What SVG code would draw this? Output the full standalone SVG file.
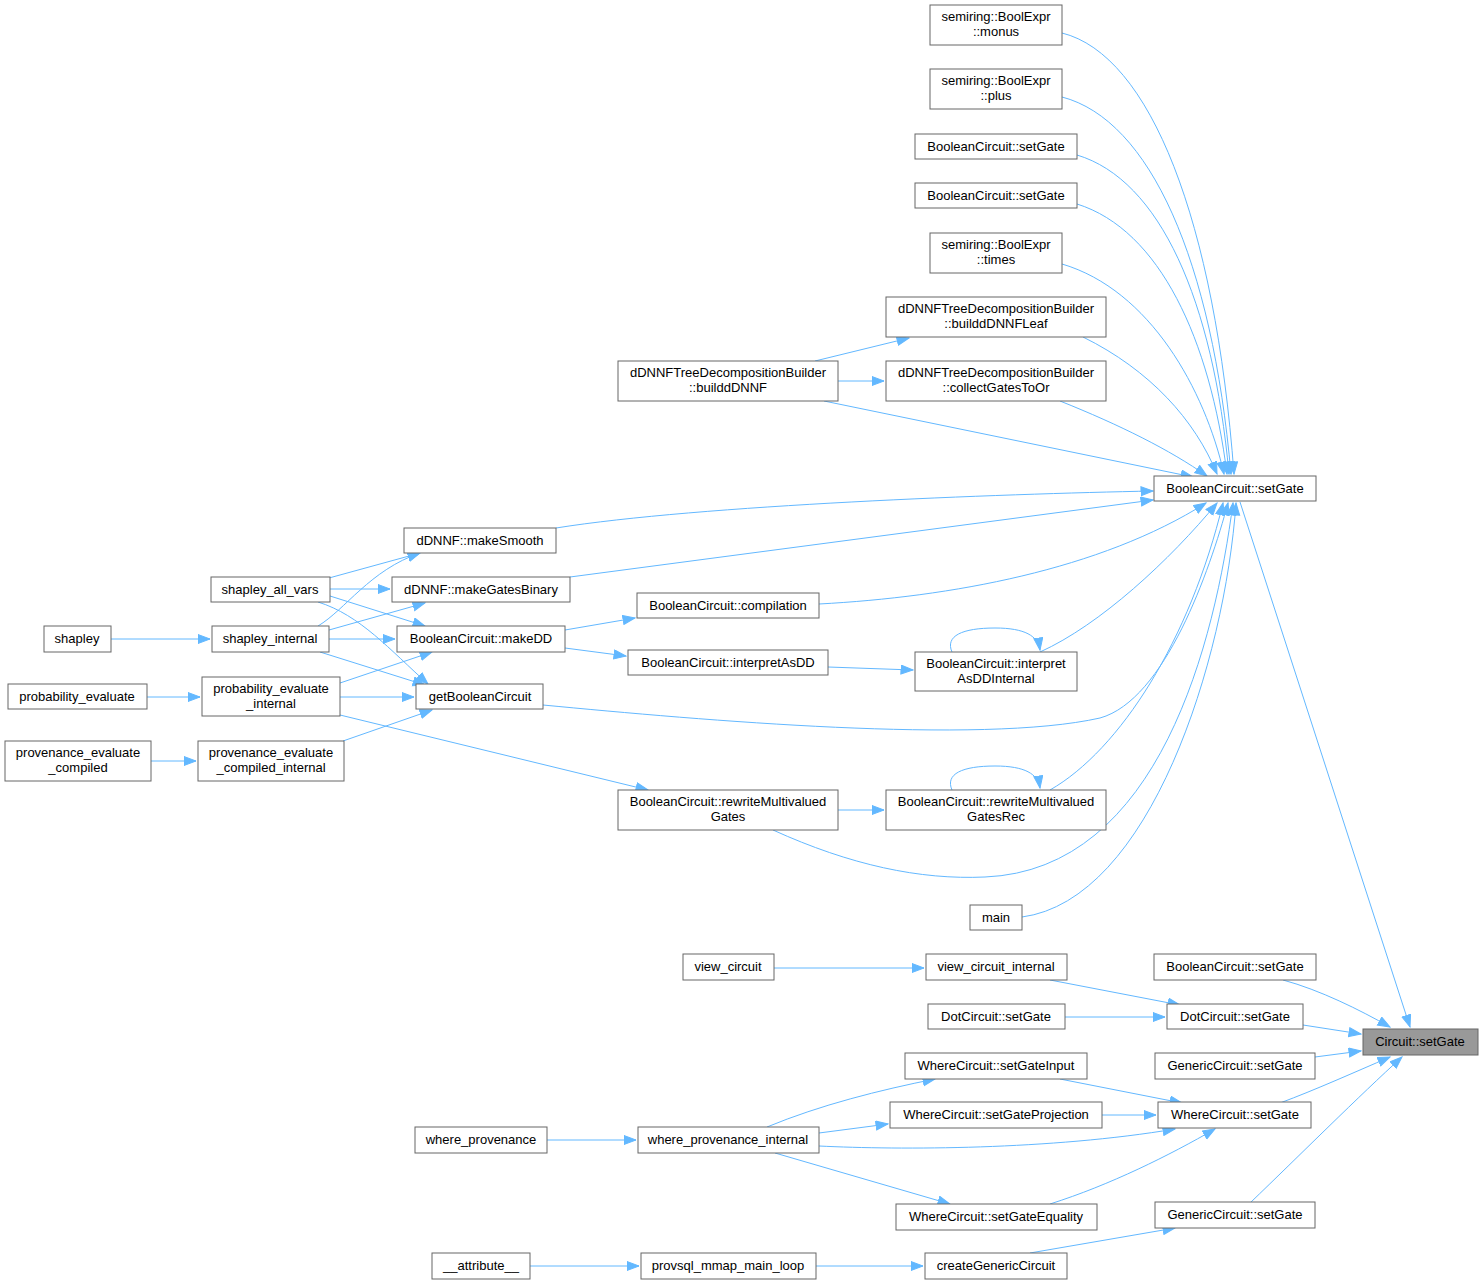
<svg xmlns="http://www.w3.org/2000/svg" width="1484" height="1285" viewBox="0 0 1484 1285">
<style>
.n rect{fill:#fff;stroke:#666;stroke-width:1}
.n text{font-family:"Liberation Sans",Arial,sans-serif;font-size:13px;fill:#000;text-anchor:middle}
.e path{fill:none;stroke:#63b8ff;stroke-width:1;marker-end:url(#a)}
</style>
<defs>
<marker id="a" markerUnits="userSpaceOnUse" markerWidth="14" markerHeight="11" refX="12.5" refY="5" orient="auto">
<path d="M0.5,0.5 L12.5,5 L0.5,9.5 z" fill="#63b8ff" stroke="#63b8ff"/>
</marker>
</defs>
<rect width="1484" height="1285" fill="#fff"/>
<g id="edges" class="e">
<path d="M1240,502 L1410,1027"/>
<path d="M1283,980 C1320,990 1360,1010 1390,1027"/>
<path d="M1303,1025 L1361,1034"/>
<path d="M1315,1057 L1361,1051"/>
<path d="M1280,1103 C1315,1090 1355,1072 1390,1057"/>
<path d="M1250,1203 C1300,1155 1360,1095 1402,1057"/>
<path d="M1062,33 C1150,55 1215,220 1234,474"/>
<path d="M1062,97 C1150,120 1212,260 1231,474"/>
<path d="M1077,155 C1160,180 1213,300 1229,474"/>
<path d="M1077,204 C1160,230 1210,340 1227,474"/>
<path d="M1062,264 C1150,290 1205,390 1224,474"/>
<path d="M1083,337 C1150,370 1195,420 1217,474"/>
<path d="M1060,401 C1120,425 1170,450 1207,476"/>
<path d="M824,401 L1193,477"/>
<path d="M556,528 C700,505 1000,494 1153,491"/>
<path d="M570,577 L1153,500"/>
<path d="M819,604 C950,597 1100,570 1206,503"/>
<path d="M1040,652 C1100,625 1170,560 1217,503"/>
<path d="M543,705 C700,720 980,745 1100,718 C1165,700 1210,570 1228,503"/>
<path d="M1050,790 C1120,750 1190,640 1223,503"/>
<path d="M773,830 C850,865 920,880 985,877 C1160,870 1215,640 1233,503"/>
<path d="M1022,917 C1150,900 1225,660 1236,503"/>
<path d="M952,652 C945,636 962,628 995,628 C1025,628 1038,636 1040,650"/>
<path d="M952,790 C945,774 962,766 995,766 C1025,766 1038,774 1040,788"/>
<path d="M815,361 L909,338"/>
<path d="M838,381 L884,381"/>
<path d="M828,667 L913,670"/>
<path d="M838,810 L884,810"/>
<path d="M565,648 L626,656"/>
<path d="M565,630 L635,618"/>
<path d="M111,639 L210,639"/>
<path d="M147,697 L200,697"/>
<path d="M151,761 L196,761"/>
<path d="M329,578 L420,553"/>
<path d="M330,589 L390,589"/>
<path d="M330,596 L425,626"/>
<path d="M318,602 C360,615 390,650 428,684"/>
<path d="M318,626 C345,610 370,570 420,553"/>
<path d="M329,630 L425,603"/>
<path d="M329,639 L395,639"/>
<path d="M320,652 L425,685"/>
<path d="M340,683 L432,652"/>
<path d="M340,697 L414,697"/>
<path d="M340,715 L648,790"/>
<path d="M343,741 L432,710"/>
<path d="M774,968 L924,968"/>
<path d="M1050,980 L1180,1005"/>
<path d="M1065,1017 L1165,1017"/>
<path d="M1060,1079 L1182,1103"/>
<path d="M1102,1115 L1156,1115"/>
<path d="M819,1146 C900,1150 1050,1150 1175,1129"/>
<path d="M767,1127 C820,1105 880,1090 935,1079"/>
<path d="M819,1133 L888,1124"/>
<path d="M775,1153 L950,1204"/>
<path d="M1050,1204 C1110,1185 1170,1155 1215,1129"/>
<path d="M547,1140 L636,1140"/>
<path d="M530,1266 L639,1266"/>
<path d="M816,1266 L923,1266"/>
<path d="M1030,1253 L1175,1228"/>
</g>
<g id="n0" class="n"><rect x="1363" y="1029" width="115" height="26" style="fill:#999"/><text x="1420" y="1046">Circuit::setGate</text></g>
<g id="n1" class="n"><rect x="1154" y="476" width="162" height="25"/><text x="1235" y="493">BooleanCircuit::setGate</text></g>
<g id="n2" class="n"><rect x="930" y="5" width="132" height="40"/><text x="996" y="21">semiring::BoolExpr</text><text x="996" y="36">::monus</text></g>
<g id="n3" class="n"><rect x="930" y="69" width="132" height="40"/><text x="996" y="85">semiring::BoolExpr</text><text x="996" y="100">::plus</text></g>
<g id="n4" class="n"><rect x="915" y="134" width="162" height="25"/><text x="996" y="151">BooleanCircuit::setGate</text></g>
<g id="n5" class="n"><rect x="915" y="183" width="162" height="25"/><text x="996" y="200">BooleanCircuit::setGate</text></g>
<g id="n6" class="n"><rect x="930" y="233" width="132" height="40"/><text x="996" y="249">semiring::BoolExpr</text><text x="996" y="264">::times</text></g>
<g id="n7" class="n"><rect x="886" y="297" width="220" height="40"/><text x="996" y="313">dDNNFTreeDecompositionBuilder</text><text x="996" y="328">::builddDNNFLeaf</text></g>
<g id="n8" class="n"><rect x="886" y="361" width="220" height="40"/><text x="996" y="377">dDNNFTreeDecompositionBuilder</text><text x="996" y="392">::collectGatesToOr</text></g>
<g id="n9" class="n"><rect x="618" y="361" width="220" height="40"/><text x="728" y="377">dDNNFTreeDecompositionBuilder</text><text x="728" y="392">::builddDNNF</text></g>
<g id="n10" class="n"><rect x="404" y="528" width="152" height="25"/><text x="480" y="545">dDNNF::makeSmooth</text></g>
<g id="n11" class="n"><rect x="392" y="577" width="178" height="25"/><text x="481" y="594">dDNNF::makeGatesBinary</text></g>
<g id="n12" class="n"><rect x="211" y="577" width="119" height="25"/><text x="270" y="594">shapley_all_vars</text></g>
<g id="n13" class="n"><rect x="44" y="626" width="67" height="26"/><text x="77" y="643">shapley</text></g>
<g id="n14" class="n"><rect x="212" y="626" width="117" height="26"/><text x="270" y="643">shapley_internal</text></g>
<g id="n15" class="n"><rect x="397" y="626" width="168" height="26"/><text x="481" y="643">BooleanCircuit::makeDD</text></g>
<g id="n16" class="n"><rect x="637" y="593" width="182" height="25"/><text x="728" y="610">BooleanCircuit::compilation</text></g>
<g id="n17" class="n"><rect x="628" y="650" width="200" height="25"/><text x="728" y="667">BooleanCircuit::interpretAsDD</text></g>
<g id="n18" class="n"><rect x="915" y="652" width="162" height="39"/><text x="996" y="668">BooleanCircuit::interpret</text><text x="996" y="683">AsDDInternal</text></g>
<g id="n19" class="n"><rect x="8" y="684" width="139" height="25"/><text x="77" y="701">probability_evaluate</text></g>
<g id="n20" class="n"><rect x="202" y="677" width="138" height="39"/><text x="271" y="693">probability_evaluate</text><text x="271" y="708">_internal</text></g>
<g id="n21" class="n"><rect x="416" y="684" width="127" height="25"/><text x="480" y="701">getBooleanCircuit</text></g>
<g id="n22" class="n"><rect x="5" y="741" width="146" height="40"/><text x="78" y="757">provenance_evaluate</text><text x="78" y="772">_compiled</text></g>
<g id="n23" class="n"><rect x="198" y="741" width="146" height="40"/><text x="271" y="757">provenance_evaluate</text><text x="271" y="772">_compiled_internal</text></g>
<g id="n24" class="n"><rect x="618" y="790" width="220" height="40"/><text x="728" y="806">BooleanCircuit::rewriteMultivalued</text><text x="728" y="821">Gates</text></g>
<g id="n25" class="n"><rect x="886" y="790" width="220" height="40"/><text x="996" y="806">BooleanCircuit::rewriteMultivalued</text><text x="996" y="821">GatesRec</text></g>
<g id="n26" class="n"><rect x="970" y="905" width="52" height="25"/><text x="996" y="922">main</text></g>
<g id="n27" class="n"><rect x="683" y="954" width="91" height="26"/><text x="728" y="971">view_circuit</text></g>
<g id="n28" class="n"><rect x="926" y="954" width="141" height="26"/><text x="996" y="971">view_circuit_internal</text></g>
<g id="n29" class="n"><rect x="1154" y="954" width="162" height="26"/><text x="1235" y="971">BooleanCircuit::setGate</text></g>
<g id="n30" class="n"><rect x="928" y="1004" width="137" height="25"/><text x="996" y="1021">DotCircuit::setGate</text></g>
<g id="n31" class="n"><rect x="1167" y="1004" width="136" height="25"/><text x="1235" y="1021">DotCircuit::setGate</text></g>
<g id="n32" class="n"><rect x="1155" y="1053" width="160" height="26"/><text x="1235" y="1070">GenericCircuit::setGate</text></g>
<g id="n33" class="n"><rect x="905" y="1053" width="182" height="26"/><text x="996" y="1070">WhereCircuit::setGateInput</text></g>
<g id="n34" class="n"><rect x="890" y="1102" width="212" height="26"/><text x="996" y="1119">WhereCircuit::setGateProjection</text></g>
<g id="n35" class="n"><rect x="1158" y="1102" width="153" height="26"/><text x="1235" y="1119">WhereCircuit::setGate</text></g>
<g id="n36" class="n"><rect x="415" y="1127" width="132" height="26"/><text x="481" y="1144">where_provenance</text></g>
<g id="n37" class="n"><rect x="638" y="1127" width="181" height="26"/><text x="728" y="1144">where_provenance_internal</text></g>
<g id="n38" class="n"><rect x="896" y="1204" width="201" height="26"/><text x="996" y="1221">WhereCircuit::setGateEquality</text></g>
<g id="n39" class="n"><rect x="1155" y="1202" width="160" height="26"/><text x="1235" y="1219">GenericCircuit::setGate</text></g>
<g id="n40" class="n"><rect x="432" y="1253" width="98" height="26"/><text x="481" y="1270">__attribute__</text></g>
<g id="n41" class="n"><rect x="641" y="1253" width="175" height="26"/><text x="728" y="1270">provsql_mmap_main_loop</text></g>
<g id="n42" class="n"><rect x="925" y="1253" width="142" height="26"/><text x="996" y="1270">createGenericCircuit</text></g>
</svg>
